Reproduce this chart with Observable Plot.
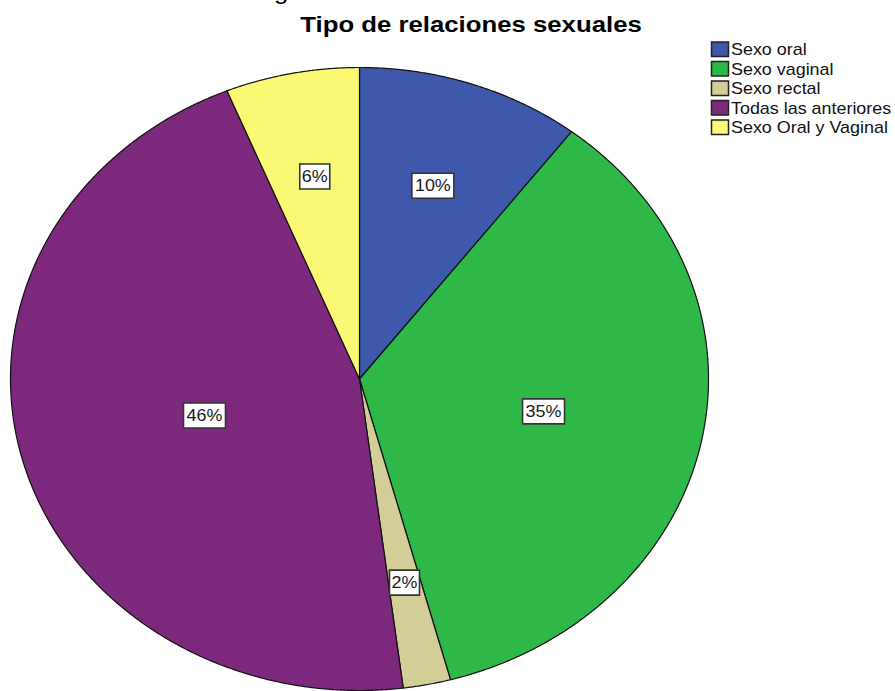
<!DOCTYPE html>
<html>
<head>
<meta charset="utf-8">
<script src="https://cdn.jsdelivr.net/npm/d3@7"></script>
<script src="https://cdn.jsdelivr.net/npm/@observablehq/plot@0.6"></script>
<style>
  html, body { margin: 0; padding: 0; background: #fff; }
  #wrap { position: relative; width: 895px; height: 691px; overflow: hidden; }
  svg { font-family: "Liberation Sans", Arial, sans-serif; }
</style>
</head>
<body>
<div id="wrap"></div>
<script>
// ---- data ----
const title = "Tipo de relaciones sexuales";
const categories = ["Sexo oral", "Sexo vaginal", "Sexo rectal", "Todas las anteriores", "Sexo Oral y Vaginal"];
const values = [10.4, 35.4, 2.2, 45.8, 6.2];
const labels = ["10%", "35%", "2%", "46%", "6%"];
const colors = ["#3e58ac", "#2eb848", "#d3ce97", "#7c287d", "#fbf873"];

// ---- geometry from data ----
const stretch = 1.12; // the picture is stretched horizontally
const arcs = d3.pie().sort(null).value((d, i) => values[i])(categories);

const slicePoints = arcs.flatMap(a => {
  const n = Math.max(2, Math.ceil((a.endAngle - a.startAngle) / 0.004));
  const pts = [{category: a.data, x: 0, y: 0}];
  for (let k = 0; k <= n; k++) {
    const t = a.startAngle + (a.endAngle - a.startAngle) * k / n;
    pts.push({category: a.data, x: Math.sin(t), y: -Math.cos(t)});
  }
  return pts;
});

const labelData = arcs.map((a, i) => {
  const m = (a.startAngle + a.endAngle) / 2;
  const half = (a.endAngle - a.startAngle) / 2;
  const rc = (2 / 3) * Math.sin(half) / half; // sector centroid distance
  return {label: labels[i], x: rc * Math.sin(m), y: -rc * Math.cos(m)};
});

const boxSymbol = (w, h) => ({
  draw(ctx) {
    ctx.moveTo(-w / 2, -h / 2);
    ctx.lineTo(w / 2, -h / 2);
    ctx.lineTo(w / 2, h / 2);
    ctx.lineTo(-w / 2, h / 2);
    ctx.closePath();
  }
});
const wideBox = boxSymbol(42, 25);
const narrowBox = boxSymbol(30, 25);

const chart = Plot.plot({
  width: 895,
  height: 691,
  margin: 0,
  x: {domain: [-1, 1], range: [10, 708], axis: null},
  y: {domain: [-1, 1], range: [67, 690], axis: null},
  color: {domain: categories, range: colors},
  marks: [
    Plot.line(slicePoints, {x: "x", y: "y", z: "category", fill: "category", stroke: "#111", strokeWidth: 1.2, curve: "linear-closed"}),
    Plot.dot(labelData.filter(d => d.label.length > 2), {x: "x", y: "y", symbol: wideBox, fill: "white", stroke: "#333", strokeWidth: 1.6}),
    Plot.dot(labelData.filter(d => d.label.length <= 2), {x: "x", y: "y", symbol: narrowBox, fill: "white", stroke: "#333", strokeWidth: 1.6}),
    Plot.text(labelData, {x: "x", y: "y", text: "label", fontSize: 16, fill: "#1a1a1a", fontFamily: "Liberation Sans, Arial, sans-serif"})
  ]
});

// stretch label text horizontally like the reference (keep Plot's own vertical offset)
d3.select(chart).selectAll('g[aria-label="text"] text').each(function() {
  let t = this.getAttribute("transform") || "";
  const xa = this.getAttribute("x");
  if (xa !== null && !isNaN(+xa) && +xa !== 0) {
    t += ` translate(${+xa},0)`;
    this.setAttribute("x", 0);
  }
  this.setAttribute("transform", `${t} scale(${stretch},1)`);
});

const svg = d3.select(chart);
const color = chart.scale("color");

// partially visible line above the title
svg.append("text")
  .attr("transform", `translate(274,-1.5) scale(${stretch},1)`)
  .attr("text-anchor", "start")
  .attr("font-size", 23).attr("fill", "#000")
  .text("g");

// title
svg.append("text")
  .attr("transform", `translate(471,31.5) scale(${stretch},1)`)
  .attr("text-anchor", "middle")
  .attr("font-weight", "bold")
  .attr("font-size", 23)
  .attr("fill", "#000")
  .text(title);

// legend
const lg = svg.append("g").attr("text-anchor", "start");
categories.forEach((c, i) => {
  const y0 = 42 + i * 19.5;
  lg.append("rect")
    .attr("x", 711.5).attr("y", y0)
    .attr("width", 17).attr("height", 14.5)
    .attr("fill", color.apply(c))
    .attr("stroke", "#222").attr("stroke-width", 1.5);
  lg.append("text")
    .attr("transform", `translate(731,${y0 + 7.5}) scale(${stretch},1)`)
    .attr("dy", "0.36em")
    .attr("text-anchor", "start")
    .attr("font-size", 16)
    .attr("fill", "#111")
    .text(c);
});

document.getElementById("wrap").appendChild(chart);
</script>
</body>
</html>
